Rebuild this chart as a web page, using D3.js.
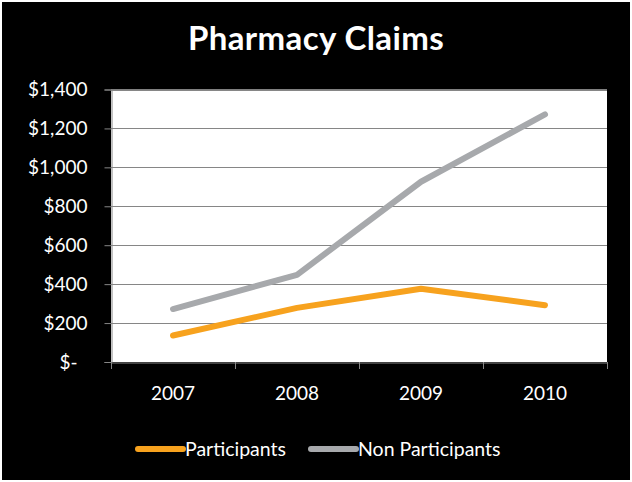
<!DOCTYPE html>
<html>
<head>
<meta charset="utf-8">
<script src="https://cdn.jsdelivr.net/npm/d3@7"></script>
<style>
  html, body { margin: 0; padding: 0; background: #fff; }
  svg { display: block; }
  text { font-family: Lato, "Open Sans", sans-serif; fill: #fff; }
</style>
</head>
<body>
<svg id="chart"></svg>
<script>
const years = ['2007', '2008', '2009', '2010']
const participants = [136, 278, 376, 292]
const nonParticipants = [272, 448, 926, 1272]
const yTicks = [0, 200, 400, 600, 800, 1000, 1200, 1400]
const seriesNames = ['Participants', 'Non Participants']
const seriesColors = ['#F7A21E', '#A7A9AC']

const W = 632, H = 482
const plot = { left: 111, top: 89.5, right: 607, bottom: 362 }

const svg = d3.select('#chart').attr('width', W).attr('height', H)

// black slide background with thin white edge
svg.append('rect').attr('x', 2).attr('y', 2).attr('width', W - 4).attr('height', H - 4).attr('fill', '#000')

svg.append('text')
    .attr('x', 316).attr('y', 50)
    .attr('text-anchor', 'middle')
    .attr('font-size', 33).attr('font-weight', 'bold')
    .attr('letter-spacing', 0.4)
    .text('Pharmacy Claims')

const x = d3.scaleBand().domain(years).range([plot.left, plot.right])
const y = d3.scaleLinear().domain([0, 1400]).range([plot.bottom, plot.top])

svg.append('rect')
    .attr('x', plot.left).attr('y', plot.top)
    .attr('width', plot.right - plot.left).attr('height', plot.bottom - plot.top)
    .attr('fill', '#fff')

// gridlines
svg.append('g').selectAll('line').data(yTicks.slice(1)).enter().append('line')
    .attr('x1', plot.left).attr('x2', plot.right)
    .attr('y1', d => Math.round(y(d)) + 0.5).attr('y2', d => Math.round(y(d)) + 0.5)
    .attr('stroke', '#868686').attr('stroke-width', 1)

const fmt = d => d === 0 ? '$-' : '$' + d3.format(',')(d)

const yAxis = svg.append('g')
    .attr('transform', `translate(${plot.left + 0.5},0)`)
    .call(d3.axisLeft(y).tickValues(yTicks).tickSize(7).tickPadding(17).tickFormat(fmt))
yAxis.select('.domain').attr('stroke', '#868686')
yAxis.selectAll('.tick line').attr('stroke', '#868686')
yAxis.selectAll('.tick text').attr('font-size', 19).attr('fill', '#fff').attr('font-family', 'Lato, sans-serif')
    .attr('dx', d => d === 0 ? -10 : 0)

const xAxis = svg.append('g')
    .attr('transform', `translate(0,${plot.bottom + 0.5})`)
    .call(d3.axisBottom(x).tickSize(0).tickPadding(24))
xAxis.select('.domain').attr('stroke', '#868686')
xAxis.selectAll('.tick text').attr('font-size', 19).attr('fill', '#fff').attr('font-family', 'Lato, sans-serif')

// tick marks between categories
const bounds = years.map(d => x(d)).concat([x.range()[1]])
svg.append('g').selectAll('line').data(bounds).enter().append('line')
    .attr('x1', d => Math.round(d) + 0.5).attr('x2', d => Math.round(d) + 0.5)
    .attr('y1', plot.bottom).attr('y2', plot.bottom + 7)
    .attr('stroke', '#868686')

const line = d3.line()
    .x((d, i) => x(years[i]) + x.bandwidth() / 2)
    .y(d => y(d))

;[participants, nonParticipants].forEach((s, i) => {
    svg.append('path')
        .attr('d', line(s))
        .attr('fill', 'none')
        .attr('stroke', seriesColors[i])
        .attr('stroke-width', 6)
        .attr('stroke-linecap', 'round')
        .attr('stroke-linejoin', 'round')
})

// legend
const legendX = [138, 311]
const leg = svg.append('g').selectAll('g').data(seriesNames).enter().append('g')
    .attr('transform', (d, i) => `translate(${legendX[i]},449)`)
leg.append('line')
    .attr('x1', 0).attr('x2', 45)
    .attr('stroke', (d, i) => seriesColors[i])
    .attr('stroke-width', 6).attr('stroke-linecap', 'round')
leg.append('text')
    .attr('x', 47).attr('y', 7)
    .attr('font-size', 19.5)
    .text(d => d)
</script>
</body>
</html>
